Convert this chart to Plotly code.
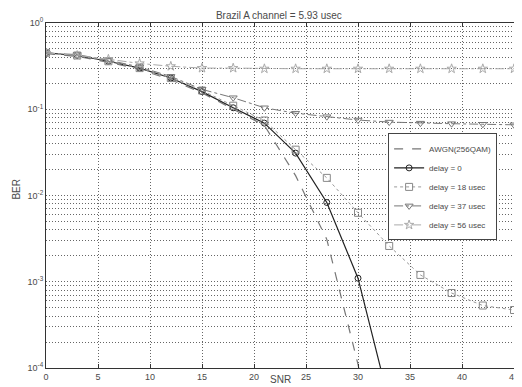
import plotly.graph_objects as go

snr = [0, 3, 6, 9, 12, 15, 18, 21, 24, 27, 30, 33, 36, 39, 42, 45]

awgn_snr = [0, 3, 6, 9, 12, 15, 18, 21, 24, 27, 30, 31]
awgn_ber = [0.44, 0.41, 0.35, 0.29, 0.22, 0.155, 0.10, 0.065, 0.017, 0.0031, 1.1e-4, 3e-5]

d0_snr = [0, 3, 6, 9, 12, 15, 18, 21, 24, 27, 30, 33]
d0_ber = [0.45, 0.42, 0.36, 0.30, 0.23, 0.16, 0.104, 0.069, 0.031, 0.0083, 0.0011, 4e-5]

d18_ber = [0.45, 0.42, 0.36, 0.30, 0.23, 0.165, 0.11, 0.074, 0.034, 0.016, 0.0063,
           0.0026, 0.0012, 7.4e-4, 5.3e-4, 4.7e-4]
d37_ber = [0.45, 0.43, 0.37, 0.31, 0.24, 0.17, 0.136, 0.104, 0.090, 0.082, 0.075,
           0.071, 0.069, 0.068, 0.067, 0.066]
d56_ber = [0.45, 0.42, 0.38, 0.34, 0.315, 0.30, 0.30, 0.295, 0.295, 0.295, 0.295,
           0.295, 0.295, 0.295, 0.295, 0.295]

x_ticks = [0, 5, 10, 15, 20, 25, 30, 35, 40, 45]
y_decades = [-4, -3, -2, -1, 0]

names = ["AWGN(256QAM)", "delay = 0", "delay = 18 usec", "delay = 37 usec", "delay = 56 usec"]
title = "Brazil A channel = 5.93 usec"
TXT = "#4a4a4a"

fig = go.Figure()
fig.add_trace(go.Scatter(x=awgn_snr, y=awgn_ber, name=names[0], mode="lines",
                         line=dict(color="#777777", width=1.2, dash="dash")))
fig.add_trace(go.Scatter(x=d0_snr, y=d0_ber, name=names[1], mode="lines+markers",
                         line=dict(color="#222222", width=1.2),
                         marker=dict(symbol="circle-open", size=6, color="#222222", line=dict(width=1))))
fig.add_trace(go.Scatter(x=snr, y=d18_ber, name=names[2], mode="lines+markers",
                         line=dict(color="#999999", width=1, dash="dot"),
                         marker=dict(symbol="square-open", size=7, color="#888888", line=dict(width=1))))
fig.add_trace(go.Scatter(x=snr, y=d37_ber, name=names[3], mode="lines+markers",
                         line=dict(color="#777777", width=1, dash="dashdot"),
                         marker=dict(symbol="triangle-down-open", size=7, color="#777777", line=dict(width=1))))
fig.add_trace(go.Scatter(x=snr, y=d56_ber, name=names[4], mode="lines+markers",
                         line=dict(color="#aaaaaa", width=1, dash="dashdot"),
                         marker=dict(symbol="star-open", size=7, color="#aaaaaa", line=dict(width=1))))

major_vals = [10 ** e for e in y_decades]
major_text = [f"10<sup>{e}</sup>" for e in y_decades]
minor_vals = [m * 10 ** e for e in y_decades[:-1] for m in range(2, 10)]

GRID = "#666666"
DOT = "1px,2px"

fig.update_layout(
    width=514, height=379,
    margin=dict(l=38, r=8, t=15, b=19),
    paper_bgcolor="white", plot_bgcolor="white",
    font=dict(family="Liberation Sans, Arial", size=9, color=TXT),
    title=dict(text=title, x=0.527, xanchor="center", y=0.99, yanchor="top",
               font=dict(size=10, color=TXT)),
    showlegend=True,
    legend=dict(x=0.731, y=0.68, xanchor="left", yanchor="top",
                bgcolor="white", bordercolor="#444444", borderwidth=1,
                font=dict(size=8, color=TXT), tracegroupgap=0,
                itemwidth=30),
    xaxis=dict(range=[0, 45], tickvals=x_ticks, automargin=False,
               showgrid=True, gridcolor=GRID, griddash=DOT, gridwidth=1,
               showline=True, linecolor="#333333", linewidth=1, mirror="ticks",
               ticks="inside", ticklen=4, tickcolor="#333333", zeroline=False,
               tickfont=dict(size=9, color=TXT)),
    yaxis=dict(type="log", range=[-4, 0], tickvals=major_vals, ticktext=major_text,
               automargin=False,
               showgrid=True, gridcolor=GRID, griddash=DOT, gridwidth=1,
               minor=dict(tickvals=minor_vals, showgrid=True, gridcolor=GRID,
                          griddash=DOT, gridwidth=1, ticks=""),
               showline=True, linecolor="#333333", linewidth=1, mirror="ticks",
               ticks="", zeroline=False, tickfont=dict(size=9, color=TXT)),
    annotations=[
        dict(text="SNR", x=0.5, y=-0.055, xref="paper", yref="paper",
             xanchor="center", yanchor="bottom", showarrow=False,
             font=dict(size=10, color=TXT)),
        dict(text="BER", x=-0.062, y=0.52, xref="paper", yref="paper",
             xanchor="center", yanchor="middle", showarrow=False, textangle=-90,
             font=dict(size=10, color=TXT)),
    ],
)

fig.write_html("out.html")
